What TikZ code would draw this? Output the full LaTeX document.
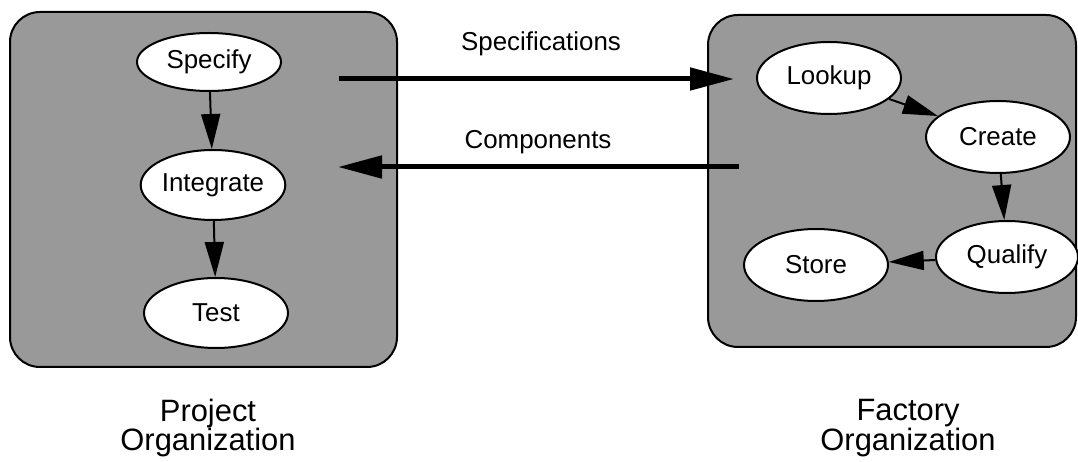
\documentclass[tikz,border=0pt]{standalone}
\usepackage{fontspec}
\setmainfont{Liberation Sans}
\usetikzlibrary{shapes.geometric,arrows.meta}
\definecolor{orgfill}{gray}{0.6}
\tikzset{
  orgbox/.style={draw=black, line width=2bp, fill=orgfill, rounded corners=30bp},
  task/.style={ellipse, draw=black, line width=2bp, fill=white, minimum width=144bp,
    minimum height=72bp, inner sep=0pt, font=\fontsize{26}{30}\selectfont},
  flow/.style={line width=2bp, -{Triangle[length=35bp, width=19bp]}},
  bigflow/.style={line width=5bp, -{Triangle[length=44bp, width=22bp]}},
  flowlabel/.style={font=\fontsize{26}{30}\selectfont},
  orglabel/.style={font=\fontsize{31}{28}\selectfont, align=center}
}
\begin{document}
\begin{tikzpicture}[x=1bp, y=-1bp]
  \useasboundingbox (0,0) rectangle (1078,462);

  % organisation panels
  \draw[orgbox] (10,12) rectangle (397,367);
  \draw[orgbox] (708,15) rectangle (1076,347);

  % project side
  \node[task, minimum height=58bp] (specify) at (209,62) {Specify};
  \node[task, minimum height=70bp] (integrate) at (213,185) {Integrate};
  \node[task, minimum height=70bp] (test) at (216,313) {Test};
  \draw[flow] (specify) -- (integrate);
  \draw[flow] (integrate) -- (test);

  % factory side
  \node[task] (lookup) at (829,78) {Lookup};
  \node[task] (create) at (998,137) {Create};
  \node[task, minimum width=142bp] (qualify) at (1007,257) {Qualify};
  \node[task] (store) at (816,265) {Store};
  \draw[flow] (lookup) -- (create);
  \draw[flow] (create) -- (qualify);
  \draw[flow] (qualify) -- (store);

  % exchanges between the organisations
  \coordinate (specfrom) at (339,79);
  \coordinate (specto) at (734,79);
  \coordinate (compfrom) at (739,167);
  \coordinate (compto) at (338,167);
  \draw[bigflow] (specfrom) -- (specto);
  \draw[bigflow] (compfrom) -- (compto);
  \node[flowlabel] (speclabel) at (541,44) {Specifications};
  \node[flowlabel] (complabel) at (538,142) {Components};

  % panel captions
  \node[orglabel] (projcap) at (208,428) {Project\\Organization};
  \node[orglabel] (factcap) at (908,428) {Factory\\Organization};
\end{tikzpicture}
\end{document}
